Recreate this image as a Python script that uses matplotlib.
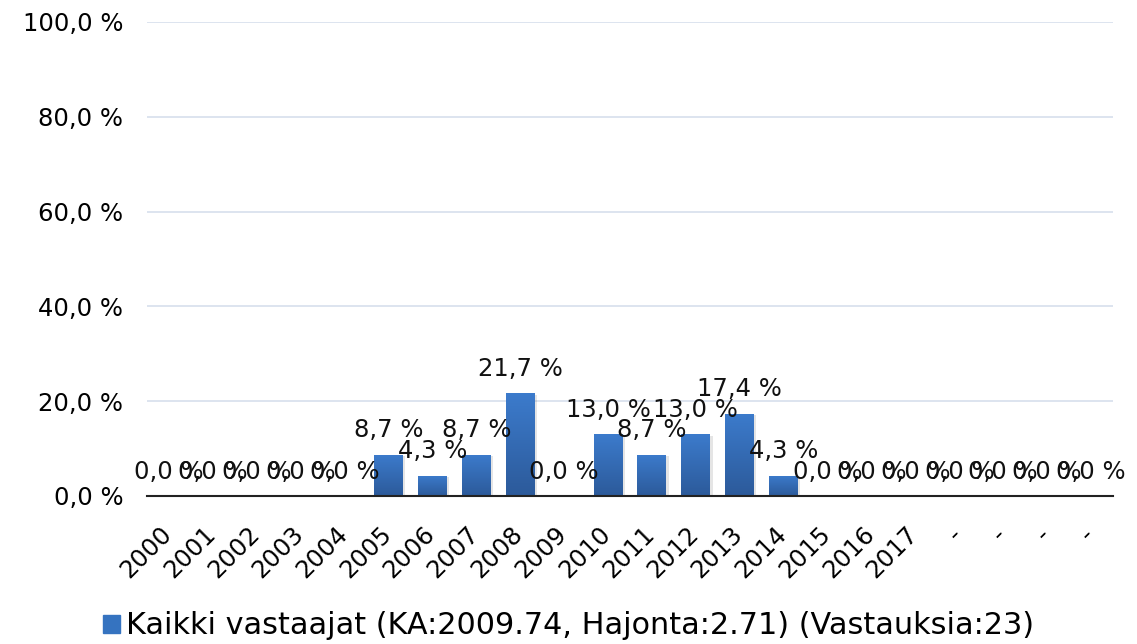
import matplotlib
matplotlib.use("Agg")
import matplotlib.pyplot as plt
import matplotlib.transforms as mtransforms
import numpy as np
from matplotlib.colors import LinearSegmentedColormap
from matplotlib.patches import Rectangle

categories = ["2000", "2001", "2002", "2003", "2004", "2005", "2006", "2007", "2008",
              "2009", "2010", "2011", "2012", "2013", "2014", "2015", "2016", "2017",
              "-", "-", "-", "-"]
values = [0.0, 0.0, 0.0, 0.0, 0.0, 8.7, 4.3, 8.7, 21.7, 0.0, 13.0, 8.7, 13.0, 17.4,
          4.3, 0.0, 0.0, 0.0, 0.0, 0.0, 0.0, 0.0]
yticks = [0, 20, 40, 60, 80, 100]
legend_label = "Kaikki vastaajat (KA:2009.74, Hajonta:2.71) (Vastauksia:23)"

plt.rcParams['font.family'] = ['DejaVu Sans']

fig = plt.figure(figsize=(11.37, 6.44), dpi=100)
ax = fig.add_axes([147/1137, 1 - 496/644, (1113-147)/1137, (496-22)/644])

x = np.arange(len(categories))
width = 0.66
bars = ax.bar(x, values, width=width, color='#3573c0', zorder=2)

cmap = LinearSegmentedColormap.from_list('g', ['#3c7bcc', '#2c5a9a'])
grad = np.linspace(0, 1, 256).reshape(-1, 1)
for b in bars:
    h = b.get_height()
    if h <= 0:
        continue
    x0 = b.get_x()
    im = ax.imshow(grad, extent=(x0, x0 + b.get_width(), 0, h), cmap=cmap,
                   aspect='auto', zorder=3, origin='upper')
    im.set_clip_path(b)
    ax.add_patch(Rectangle((x0 + 0.05, 0), b.get_width(), h - 0.3, color='#000000',
                           alpha=0.10, zorder=1.5, lw=0))

for xi, v in zip(x, values):
    ax.annotate(f"{v:.1f} %".replace('.', ','), (xi, v), xytext=(0, 12.5),
                textcoords='offset points', ha='center', va='baseline',
                fontsize=17.5, color='#111111', zorder=5)

ax.set_xlim(-0.5, len(categories) - 0.5)
ax.set_ylim(0, 100)
ax.set_yticks(yticks)
ax.set_yticklabels([f"{t:.1f} %".replace('.', ',') for t in yticks], fontsize=17.5)
ax.yaxis.grid(True, color='#dae2ee', lw=1.3, zorder=0)
ax.set_axisbelow(True)
ax.tick_params(axis='y', length=0, pad=17)
ax.tick_params(axis='x', length=0, pad=25)
ax.set_xticks(x)
ax.set_xticklabels(categories, rotation=45, ha='right', va='center',
                   rotation_mode='anchor', fontsize=17.5)
offset = mtransforms.ScaledTranslation(-1/100, 0, fig.dpi_scale_trans)
for lab in ax.get_xticklabels():
    lab.set_transform(lab.get_transform() + offset)
for s in ['top', 'right', 'left']:
    ax.spines[s].set_visible(False)
ax.spines['bottom'].set_color('#222222')
ax.spines['bottom'].set_linewidth(1.5)
ax.spines['bottom'].set_zorder(4)

handle = Rectangle((0, 0), 1, 1, color='#3573c0')
fig.legend([handle], [legend_label], loc='center', bbox_to_anchor=(0.5, 1 - 626/644),
           frameon=False, fontsize=21.8, handlelength=0.55, handleheight=0.55,
           handletextpad=0.2, borderpad=0)

fig.savefig('out.png', dpi=100)
